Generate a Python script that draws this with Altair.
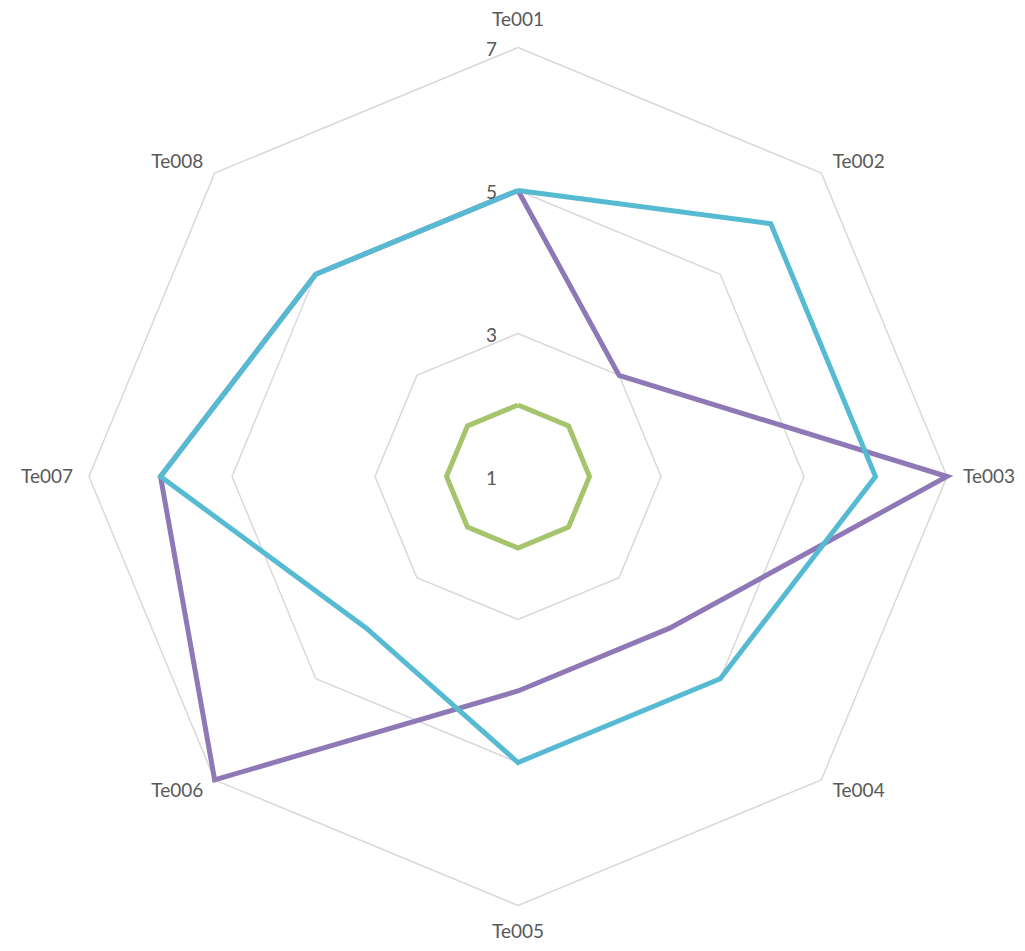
import math
import altair as alt
import pandas as pd

# ---- data ----
categories = ["Te001", "Te002", "Te003", "Te004", "Te005", "Te006", "Te007", "Te008"]
series_names = ["Series1", "Series2", "Series3"]
series1 = [2, 2, 2, 2, 2, 2, 2, 2]          # green
series2 = [5, 3, 7, 4, 4, 7, 6, 5]          # purple
series3 = [5, 6, 6, 5, 5, 4, 6, 5]          # cyan
series_colors = ["#A6C46B", "#8E78B5", "#56BBD2"]
grid_levels = [3, 5, 7]
tick_labels = [1, 3, 5, 7]

R_MIN, R_MAX = 1, 7
UNIT_PX = 71.5  # pixels per value unit
n = len(categories)


def polar(v, i):
    a = 2 * math.pi * i / n
    r = v - R_MIN
    return r * math.sin(a), r * math.cos(a)


# series polygons
rows = []
for s, vals in zip(series_names, [series1, series2, series3]):
    for k in range(n + 1):
        i = k % n
        x, y = polar(vals[i], i)
        rows.append({"series": s, "cat": categories[i], "value": vals[i], "k": k, "x": x, "y": y})
df_series = pd.DataFrame(rows)

# grid octagons
grows = []
for lv in grid_levels:
    for k in range(n + 1):
        i = k % n
        x, y = polar(lv, i)
        grows.append({"level": lv, "k": k, "x": x, "y": y})
df_grid = pd.DataFrame(grows)

# category labels
lrows = []
for i, c in enumerate(categories):
    a = 2 * math.pi * i / n
    s = math.sin(a)
    if abs(s) < 1e-6:
        gap = 28 if math.cos(a) > 0 else 26
        side = "center"
    else:
        gap = 16
        side = "left" if s > 0 else "right"
    r = (R_MAX - R_MIN) + gap / UNIT_PX
    lrows.append({"cat": c, "x": r * s, "y": r * math.cos(a), "side": side})
df_lab = pd.DataFrame(lrows)

df_ticks = pd.DataFrame({"t": tick_labels, "x": [0] * len(tick_labels),
                         "y": [t - R_MIN for t in tick_labels]})

span = R_MAX - R_MIN
xs = alt.X("x:Q", scale=alt.Scale(domain=[-span, span]), axis=None)
ys = alt.Y("y:Q", scale=alt.Scale(domain=[-span, span]), axis=None)

grid = alt.Chart(df_grid).mark_line(color="#D9D9D9", strokeWidth=1.5).encode(
    x=xs, y=ys, detail="level:N", order="k:Q")

layers = [grid]
for s, col in zip(series_names, series_colors):
    layers.append(
        alt.Chart(df_series).transform_filter(alt.datum.series == s)
        .mark_line(color=col, strokeWidth=5, strokeJoin="miter")
        .encode(x=xs, y=ys, order="k:Q")
    )

for side in ["left", "right", "center"]:
    layers.append(
        alt.Chart(df_lab).transform_filter(alt.datum.side == side)
        .mark_text(align=side, baseline="middle", font="Lato", fontSize=19, color="#595959")
        .encode(x=xs, y=ys, text="cat:N")
    )

layers.append(
    alt.Chart(df_ticks).mark_text(align="right", baseline="middle", dx=-21, dy=2,
                                  font="Lato", fontSize=19, color="#595959")
    .encode(x=xs, y=ys, text="t:N")
)

chart = alt.layer(*layers).properties(
    width=2 * span * UNIT_PX,
    height=2 * span * UNIT_PX,
    autosize=alt.AutoSizeParams(type="none"),
    padding={"left": 81, "top": 39.5, "right": 69, "bottom": 37.5},
).configure_view(stroke=None)

chart.save("out.html", embed_options={"renderer": "svg", "actions": False})
